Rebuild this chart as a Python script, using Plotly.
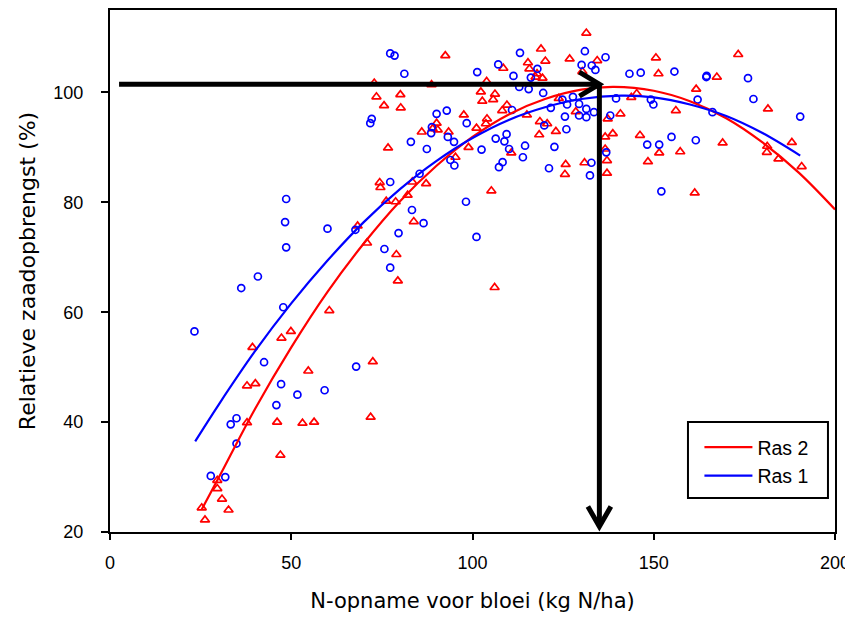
import plotly.graph_objects as go

ras1_x = [48.6, 48.3, 60.0, 48.6, 40.8, 36.2, 47.8, 23.3, 42.5, 47.2, 51.7, 59.2, 45.9, 34.9, 33.3, 34.9,
          27.8, 31.8, 77.3, 67.9, 77.3, 78.5, 81.2, 101.3, 107.1, 113.1, 111.3, 117.9, 116.1, 112.9, 115.5,
          119.5, 72.2, 71.8, 90.1, 92.9, 98.4, 88.8, 88.6, 83.0, 93.2, 94.9, 87.4, 102.5, 110.9, 106.4,
          109.4, 108.8, 110.1, 114.5, 113.9, 108.3, 107.3, 93.9, 95.0, 77.3, 85.4, 83.3, 86.5, 79.6, 75.7,
          98.2, 101.1, 67.7, 121.6, 125.5, 125.9, 122.6, 121.1, 126.1, 119.8, 131.0, 130.1, 132.9, 133.9,
          136.7, 143.3, 146.4, 155.7, 164.5, 164.6, 176.0, 177.5, 190.4, 139.6, 149.2, 149.9, 162.1, 166.2,
          124.8, 127.7, 129.4, 129.4, 131.4, 131.4, 133.5, 138.0, 136.9, 132.8, 132.4, 148.2, 151.5, 154.9,
          161.6, 152.1]
ras1_y = [80.6, 76.4, 75.2, 71.8, 66.5, 64.4, 60.9, 56.5, 50.9, 46.9, 45.0, 45.8, 43.1, 40.7, 39.6, 36.1,
          30.2, 30.0, 68.1, 50.1, 107.1, 106.7, 103.4, 103.7, 105.1, 107.2, 103.0, 104.3, 102.7, 101.0, 100.6,
          99.9, 95.2, 94.4, 96.1, 96.7, 94.4, 93.7, 92.6, 91.0, 91.9, 91.0, 89.7, 89.6, 96.8, 91.6,
          92.4, 91.1, 89.7, 90.3, 88.2, 87.3, 86.4, 87.7, 86.7, 83.7, 85.2, 78.6, 76.2, 74.4, 71.5,
          80.1, 73.7, 75.0, 97.2, 95.6, 93.3, 90.1, 86.2, 97.8, 94.0, 107.5, 105.0, 104.9, 104.1,
          106.4, 103.4, 103.6, 103.8, 102.8, 103.0, 102.6, 98.8, 95.6, 98.9, 98.7, 97.8, 98.7, 96.4,
          98.7, 99.2, 97.9, 95.8, 95.5, 97.0, 96.4, 95.8, 89.1, 87.2, 84.9, 90.5, 90.5, 91.9,
          91.3, 82.0]

ras2_x = [60.5, 49.9, 47.3, 39.3, 54.7, 37.8, 40.1, 37.8, 46.1, 53.1, 56.3, 47.0, 29.6, 29.6, 30.9, 32.7,
          25.3, 26.2, 79.4, 106.1, 72.5, 71.9, 92.5, 108.5, 118.9, 115.3, 115.7, 120.1, 126.8, 117.8, 119.3,
          117.4, 72.9, 88.7, 103.9, 73.5, 80.1, 75.6, 80.2, 102.3, 102.7, 106.2, 105.7, 109.5, 108.2, 97.6,
          104.0, 103.7, 101.1, 90.1, 90.4, 89.0, 86.0, 93.4, 76.7, 98.9, 110.7, 118.6, 120.6, 118.4, 123.0,
          125.7, 125.5, 74.4, 74.6, 83.4, 87.2, 105.2, 76.2, 78.8, 82.1, 68.3, 70.9, 83.8, 79.0, 131.4,
          134.4, 130.3, 150.6, 173.3, 151.3, 167.4, 161.7, 143.8, 145.3, 181.5, 156.1, 128.5, 137.3, 140.8,
          138.7, 136.6, 146.2, 136.6, 137.1, 137.1, 130.9, 148.4, 151.5, 157.3, 169.0, 188.1, 181.3, 181.2,
          184.4, 190.8, 161.3, 95.3, 115.0, 123.8]
ras2_y = [60.3, 56.5, 55.3, 53.6, 49.3, 46.6, 47.0, 39.9, 40.0, 39.8, 40.0, 34.0, 29.4, 27.9, 26.0, 24.0,
          24.4, 22.2, 65.7, 64.5, 51.0, 40.9, 106.7, 104.4, 107.9, 105.4, 104.3, 105.7, 106.1, 103.4, 102.6,
          102.8, 101.7, 101.4, 102.0, 99.2, 99.6, 97.6, 97.2, 100.1, 98.4, 99.7, 98.7, 97.7, 96.7, 95.9,
          95.2, 94.3, 93.5, 94.4, 93.2, 93.4, 92.8, 92.8, 89.9, 90.0, 89.0, 94.7, 94.3, 92.3, 92.9,
          86.9, 85.1, 83.6, 82.7, 83.7, 83.4, 82.1, 80.2, 80.1, 81.3, 75.7, 72.6, 76.5, 70.5, 110.8,
          105.8, 103.8, 106.3, 106.9, 103.4, 102.8, 100.6, 99.1, 99.8, 97.0, 96.7, 96.5, 95.2, 96.1,
          92.5, 91.9, 92.2, 89.7, 87.6, 85.3, 87.2, 87.4, 89.0, 89.2, 90.8, 90.9, 90.2, 89.1,
          87.9, 86.5, 81.7, 88.2, 95.9, 98.9]

# ---- fitted curves ----
fit1_x = [23.5, 30, 40, 50, 60, 70, 80, 90, 100, 110, 120, 130, 141, 150, 160, 170, 180, 190.4]
fit1_y = [36.5, 43.2, 52.9, 61.6, 69.4, 76.4, 82.4, 87.5, 91.7, 95.0, 97.3, 98.8, 99.4, 99.1, 97.8, 95.7, 92.6, 88.5]
fit2_x = [25.3, 30, 40, 50, 60, 70, 80, 90, 100, 110, 120, 130, 139, 150, 160, 170, 180, 190, 200]
fit2_y = [24.1, 29.9, 42.4, 53.6, 63.7, 72.5, 80.2, 86.6, 91.9, 96.0, 98.8, 100.5, 101.0, 100.3, 98.4, 95.3, 90.9, 85.4, 78.7]

# ---- optimum marked with arrows ----
opt_n = 135.0        # N-opname at optimum
opt_yield = 101.5    # relative yield at optimum
arrow_start_x = 2.5
arrow_end_y = 21.0

x_ticks = [0, 50, 100, 150, 200]
y_ticks = [20, 40, 60, 80, 100]

RED = "#FF0000"
BLUE = "#0000FF"
FONT = "Liberation Sans, Arial, sans-serif"
TITLE_FONT = "DejaVu Sans, Verdana, sans-serif"

fig = go.Figure()

fig.add_trace(go.Scatter(x=ras2_x, y=ras2_y, mode="markers", showlegend=False, hoverinfo="skip",
                         marker=dict(symbol="triangle-up-open", size=8, color=RED, line=dict(width=1.7, color=RED))))
fig.add_trace(go.Scatter(x=ras1_x, y=ras1_y, mode="markers", showlegend=False, hoverinfo="skip",
                         marker=dict(symbol="circle-open", size=7, color=BLUE, line=dict(width=1.7, color=BLUE))))
fig.add_trace(go.Scatter(x=fit2_x, y=fit2_y, mode="lines", name="Ras 2", line=dict(color=RED, width=2.2, shape="spline")))
fig.add_trace(go.Scatter(x=fit1_x, y=fit1_y, mode="lines", name="Ras 1", line=dict(color=BLUE, width=2.2, shape="spline")))

shapes = [
    dict(type="line", xref="x", yref="y", x0=arrow_start_x, x1=opt_n, y0=opt_yield, y1=opt_yield,
         line=dict(color="black", width=5)),
    dict(type="line", xref="x", yref="y", x0=opt_n, x1=opt_n, y0=opt_yield, y1=arrow_end_y,
         line=dict(color="black", width=5)),
    dict(type="path", xref="x", yref="y", xsizemode="pixel", ysizemode="pixel",
         xanchor=opt_n, yanchor=opt_yield, path="M-20,12 L0,0 L-20,-12",
         line=dict(color="black", width=5)),
    dict(type="path", xref="x", yref="y", xsizemode="pixel", ysizemode="pixel",
         xanchor=opt_n, yanchor=arrow_end_y, path="M-11.5,20 L0,0 L11.5,20",
         line=dict(color="black", width=5)),
    # legend frame
    dict(type="rect", xref="paper", yref="paper", x0=0.7972, x1=0.9903, y0=0.0651, y1=0.2107,
         line=dict(color="black", width=2), fillcolor="rgba(0,0,0,0)", layer="above"),
]

# page body adds an 8 px offset, so the figure is 8 px smaller than the window
fig.update_layout(
    width=845, height=609,
    margin=dict(l=102, r=18, t=2, b=85),
    paper_bgcolor="white", plot_bgcolor="white",
    font=dict(family=FONT, size=18, color="black"),
    shapes=shapes,
    showlegend=True,
    legend=dict(x=0.813, y=0.1992, xanchor="left", yanchor="top",
                bgcolor="rgba(0,0,0,0)", borderwidth=0, itemwidth=48,
                font=dict(family=FONT, size=19.5, color="black"),
                traceorder="normal"),
)
fig.update_xaxes(range=[0, 200], tickvals=x_ticks, ticks="outside", ticklen=6, tickwidth=2,
                 tickcolor="black", showline=True, linecolor="black", linewidth=2, mirror=True,
                 showgrid=False, zeroline=False, ticklabelstandoff=7, automargin=False,
                 title=dict(text="N-opname voor bloei (kg N/ha)", standoff=22,
                            font=dict(family=TITLE_FONT, size=21)))
fig.update_yaxes(range=[20, 115], tickvals=y_ticks, ticks="outside", ticklen=7, tickwidth=2,
                 tickcolor="black", showline=True, linecolor="black", linewidth=2, mirror=True,
                 showgrid=False, zeroline=False, ticklabelstandoff=14, automargin=False,
                 title=dict(text="Relatieve zaadopbrengst (%)", standoff=12,
                            font=dict(family=TITLE_FONT, size=22)))

fig.write_html("out.html")
